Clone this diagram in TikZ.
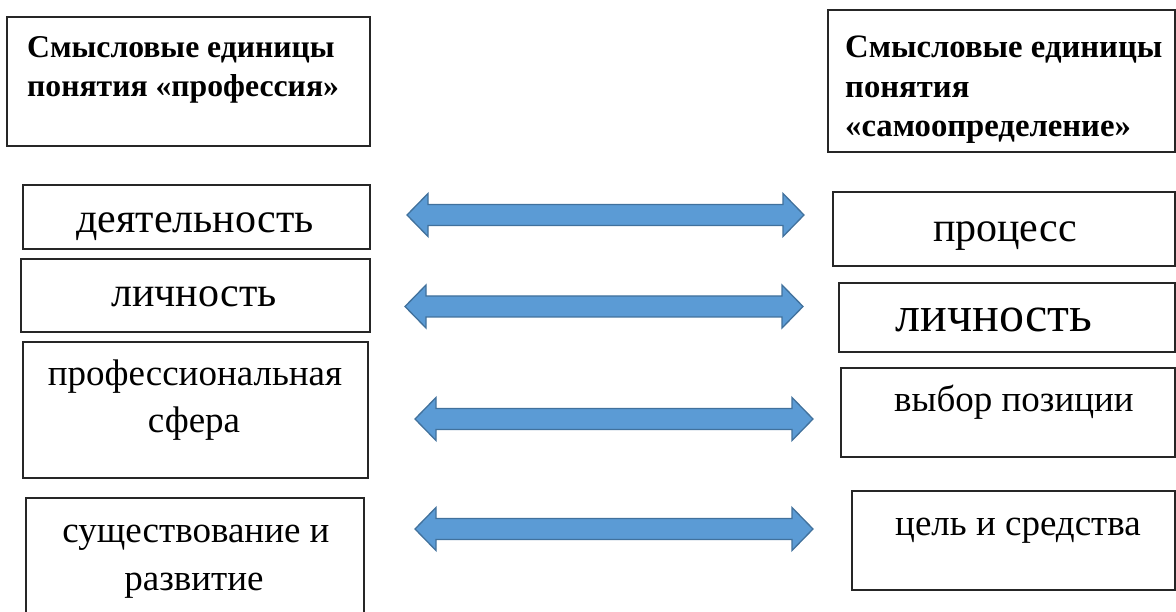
\documentclass[tikz,border=0pt]{standalone}
\usepackage{fontspec}
\setmainfont{Liberation Serif}
\usetikzlibrary{calc}
\definecolor{arrowfill}{HTML}{5B9BD5}
\definecolor{arrowborder}{HTML}{41719C}
\newcommand\dblarr[2]{%
  \draw[arr] (#1) -- ++(21,-21.5) -- ++(0,11) -- ($(#2)+(-21,-10.5)$) -- ++(0,-11)
    -- (#2) -- ++(-21,21.5) -- ++(0,-11) -- ($(#1)+(21,10.5)$) -- ++(0,11) -- cycle;}
\begin{document}
\begin{tikzpicture}[x=1pt,y=-1pt,
  box/.style={draw=black!85, line width=1.4pt, anchor=north west, inner sep=0pt, outer sep=0pt},
  txt/.style={anchor=base, font=\fontsize{42}{48}\selectfont, inner sep=0pt},
  txtbig/.style={anchor=base, font=\fontsize{50}{56}\selectfont, inner sep=0pt},
  txtsm/.style={anchor=base, font=\fontsize{37}{44}\selectfont, inner sep=0pt},
  head/.style={anchor=base west, font=\bfseries\fontsize{31.7}{39}\selectfont, inner sep=0pt},
  headr/.style={anchor=base west, font=\bfseries\fontsize{32.7}{39}\selectfont, inner sep=0pt},
  arr/.style={draw=arrowborder, fill=arrowfill, line width=1.3pt, line join=miter}]
\useasboundingbox (0,0) rectangle (1176,612);
\newcommand\bx[5]{\node[box, minimum width={#4-#2}, minimum height={#5-#3}] (#1) at (#2,#3) {};}
% left column
\bx{lh}{7}{17}{370}{146}
\bx{l1}{23}{185}{370}{249}
\bx{l2}{21}{259}{370}{332}
\bx{l3}{23}{342}{368}{478}
\bx{l4}{26}{498}{364}{620}
% right column
\bx{rh}{828}{10}{1175}{152}
\bx{r1}{833}{192}{1175}{266}
\bx{r2}{839}{283}{1175}{352}
\bx{r3}{841}{368}{1175}{457}
\bx{r4}{852}{491}{1175}{590}
% header texts
\node[head] (lht1) at (27,58) {Смысловые единицы};
\node[head] (lht2) at (27,97) {понятия «профессия»};
\node[headr] (rht1) at (845,58) {Смысловые единицы};
\node[headr] (rht2) at (845,97.5) {понятия};
\node[headr] (rht3) at (845,137) {«самоопределение»};
% left texts
\node[txt] (lt1) at (195,233) {деятельность};
\node[txt] (lt2) at (194,307) {личность};
\node[txtsm] (lt3a) at (195,385) {профессиональная};
\node[txtsm] (lt3b) at (194,432) {сфера};
\node[txtsm] (lt4a) at (196,542) {существование и};
\node[txtsm] (lt4b) at (194,590) {развитие};
% right texts
\node[txt] (rt1) at (1005,242) {процесс};
\node[txtbig] (rt2) at (994,332) {личность};
\node[txtsm] (rt3) at (1014,412) {выбор позиции};
\node[txtsm] (rt4) at (1018,535) {цель и средства};
% arrows
\coordinate (a1l) at (407,215); \coordinate (a1r) at (804,215);
\coordinate (a2l) at (405,306.5); \coordinate (a2r) at (803,306.5);
\coordinate (a3l) at (415,419); \coordinate (a3r) at (813,419);
\coordinate (a4l) at (415,529); \coordinate (a4r) at (813,529);
\dblarr{a1l}{a1r}
\dblarr{a2l}{a2r}
\dblarr{a3l}{a3r}
\dblarr{a4l}{a4r}
\end{tikzpicture}
\end{document}
